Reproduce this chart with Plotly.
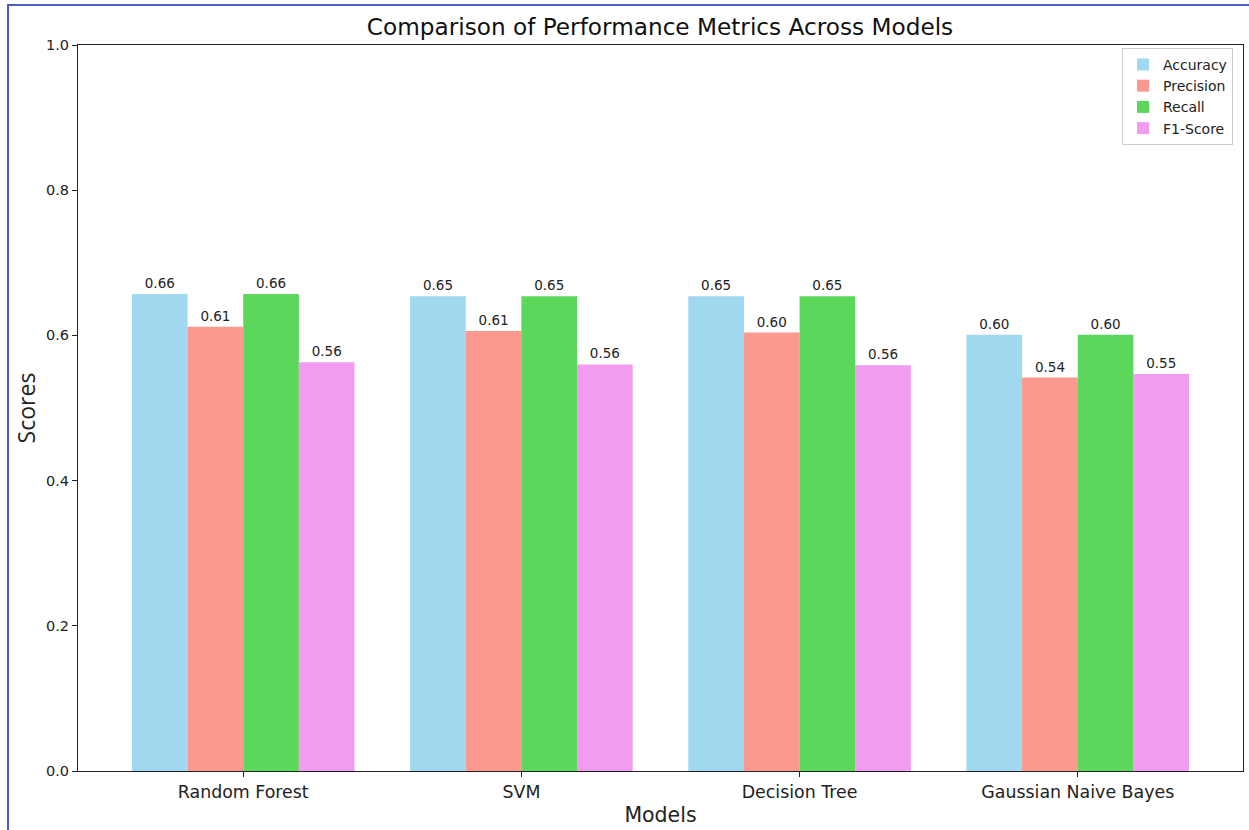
import plotly.graph_objects as go

models = ["Random Forest", "SVM", "Decision Tree", "Gaussian Naive Bayes"]
accuracy = [0.657, 0.654, 0.654, 0.601]
precision = [0.612, 0.606, 0.604, 0.542]
recall = [0.657, 0.654, 0.654, 0.601]
f1_score = [0.563, 0.560, 0.559, 0.547]

metrics = [
    ("Accuracy", accuracy, "rgba(135,206,235,0.8)"),
    ("Precision", precision, "rgba(250,128,114,0.8)"),
    ("Recall", recall, "rgba(50,205,50,0.8)"),
    ("F1-Score", f1_score, "rgba(238,130,238,0.8)"),
]
y_ticks = [0.0, 0.2, 0.4, 0.6, 0.8, 1.0]

fig = go.Figure()
for name, vals, color in metrics:
    fig.add_trace(go.Bar(
        name=name,
        x=models,
        y=vals,
        marker=dict(color=color, line=dict(width=0)),
        text=[f"{v:.2f}" for v in vals],
        textposition="outside",
        textfont=dict(family="DejaVu Sans", size=13.5, color="#222222"),
        cliponaxis=False,
    ))

axis_line = dict(showline=True, linecolor="#222222", linewidth=1, mirror=True,
                 ticks="outside", ticklen=5, tickcolor="#222222", showgrid=False,
                 zeroline=False)

fig.update_layout(
    width=1249, height=830,
    margin=dict(l=78, r=6, t=45, b=59),
    paper_bgcolor="white", plot_bgcolor="white",
    barmode="group", bargap=0.2, bargroupgap=0,
    font=dict(family="DejaVu Sans", color="#222222"),
    title=dict(text="Comparison of Performance Metrics Across Models",
               x=(660 / 1249), xanchor="center", y=1 - 27 / 830, yanchor="middle",
               font=dict(size=23.2, family="DejaVu Sans", color="#111111")),
    xaxis=dict(axis_line, range=[-0.594, 3.594],
               tickfont=dict(size=17.4, family="DejaVu Sans", color="#222222"),
               title=dict(text="Models", standoff=6,
                          font=dict(size=20.5, family="DejaVu Sans", color="#222222"))),
    yaxis=dict(axis_line, range=[0, 1], tickvals=y_ticks, tickformat=".1f",
               tickfont=dict(size=14.5, family="DejaVu Sans", color="#222222"),
               title=dict(text="Scores", standoff=3,
                          font=dict(size=23, family="Open Sans", color="#222222"))),
    legend=dict(x=0.9914, xanchor="right", y=0.996, yanchor="top",
                bgcolor="rgba(255,255,255,0.8)", bordercolor="#cccccc", borderwidth=1,
                font=dict(size=14, family="DejaVu Sans", color="#222222"),
                itemwidth=30, tracegroupgap=0),
    showlegend=True,
)

# thin frame around the whole figure
fig.add_shape(type="rect", xref="paper", yref="paper",
              x0=(8 - 78) / 1165, x1=1.2, y0=-0.3, y1=(771 - 5) / 726,
              line=dict(color="#4a5fc1", width=2), fillcolor="rgba(0,0,0,0)", layer="above")

fig.write_html("out.html")
